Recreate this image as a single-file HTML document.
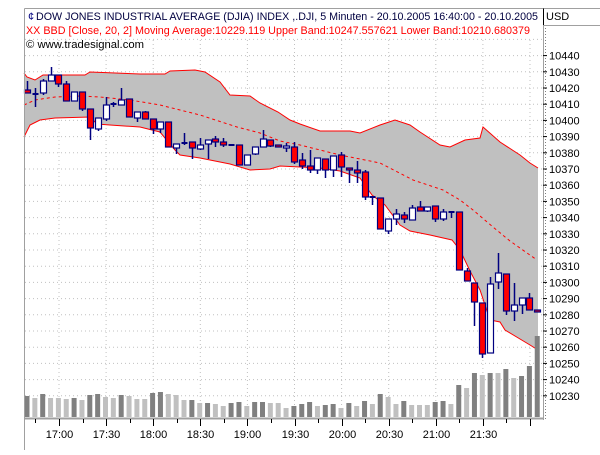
<!DOCTYPE html>
<html><head><meta charset="utf-8"><style>
body{margin:0;background:#fff;}
svg text{font-family:"Liberation Sans",sans-serif;font-size:11px;}
</style></head><body>
<svg id="s" width="600" height="450" xmlns="http://www.w3.org/2000/svg">
<rect width="600" height="450" fill="#fff"/>
<g id="grid"></g>
<polygon fill="#c0c0c0" stroke="none" points="24,73 27,77 35,80 43,75 85,75 90,72 140,74 165,74 170,71 195,70 205,72 220,82 230,95 250,96 260,103 278,112 290,120 300,124 320,131 350,131 360,133 380,125 395,120 410,125 420,132 440,145 450,147 465,140 480,138 483,127 500,142 520,155 530,163 538,168 538,350 530,345 520,339 505,330 500,322 490,320 480,290 470,271 460,250 452,240 430,235 410,231 400,225 385,205 372,195 360,178 340,171 320,168 300,167 280,166 270,169 250,170 230,164 200,158 180,155 175,150 160,132 140,127 110,125 97,124 90,117 55,118 40,120 30,125 24,137"/>
<polyline fill="none" stroke="#f00" stroke-width="1" points="24,73 27,77 35,80 43,75 85,75 90,72 140,74 165,74 170,71 195,70 205,72 220,82 230,95 250,96 260,103 278,112 290,120 300,124 320,131 350,131 360,133 380,125 395,120 410,125 420,132 440,145 450,147 465,140 480,138 483,127 500,142 520,155 530,163 538,168"/>
<polyline fill="none" stroke="#f00" stroke-width="1" points="538,350 530,345 520,339 505,330 500,322 490,320 480,290 470,271 460,250 452,240 430,235 410,231 400,225 385,205 372,195 360,178 340,171 320,168 300,167 280,166 270,169 250,170 230,164 200,158 180,155 175,150 160,132 140,127 110,125 97,124 90,117 55,118 40,120 30,125 24,137"/>
<polyline fill="none" stroke="#f00" stroke-width="1" stroke-dasharray="3,3" points="24,105 35,100 55,97 80,96 100,97 130,100 160,105 200,115 237,127 260,133 280,141 300,145 340,155 380,163 413,180 443,190 460,200 473,210 493,227 510,241 537,260"/>
<g id="vol"></g>
<g id="cand"></g>
<g id="axes"></g>
<!-- header -->
<line x1="24.5" y1="8.5" x2="600" y2="8.5" stroke="#a0a0a0"/>
<line x1="24.5" y1="8.5" x2="24.5" y2="60" stroke="#a0a0a0"/>
<line x1="543.5" y1="8.5" x2="543.5" y2="25" stroke="#000"/>
<line x1="543.5" y1="25.5" x2="600" y2="25.5" stroke="#a0a0a0"/>
<text x="28" y="20" fill="#000080">¢</text>
<text x="36" y="20" fill="#000040" textLength="502" lengthAdjust="spacingAndGlyphs">DOW JONES INDUSTRIAL AVERAGE (DJIA) INDEX ,.DJI, 5 Minuten - 20.10.2005 16:40:00 - 20.10.2005</text>
<text x="546" y="20" fill="#000">USD</text>
<text x="26" y="34" fill="#f00" textLength="504" lengthAdjust="spacingAndGlyphs">XX BBD [Close, 20, 2] Moving Average:10229.119 Upper Band:10247.557621 Lower Band:10210.680379</text>
<text x="26" y="48" fill="#000" textLength="118" lengthAdjust="spacingAndGlyphs">© www.tradesignal.com</text>
</svg>
<script>
var NS="http://www.w3.org/2000/svg";
function el(p,t,a){var e=document.createElementNS(NS,t);for(var k in a)e.setAttribute(k,a[k]);document.getElementById(p).appendChild(e);return e;}
for(var v=10230;v<=10450;v+=10){var y=250-(v-10320)*1.62;
 el("grid","line",{x1:25,x2:542,y1:y,y2:y,stroke:"#c0c0c0","stroke-dasharray":"1,3"});}
for(var i=-1;i<11;i++){var x=59+i*47.1;if(x<25)continue;
 el("grid","line",{x1:x,x2:x,y1:40,y2:417,stroke:"#c0c0c0","stroke-dasharray":"1,3"});}
var vt=[396,398,394,398,398,399,398,400,395,394,397,398,395,396,399,399,393,392,394,395,400,400,403,403,404,406,403,402,406,402,402,403,403,408,406,404,402,406,405,404,408,403,406,401,404,394,397,404,401,405,405,405,402,401,404,385,388,373,375,373,373,369,378,376,366,336];
var vc="DLDLLLDLDDLLDLLLDDLLLDLDLLDDLDDLLLDDDLDDLDLDLDLLDLLLDDLDLDLDLDLDDD";
for(var i=0;i<66;i++){var x=27+i*7.85;
 el("vol","rect",{x:x-2.5,y:vt[i],width:5,height:417-vt[i],fill:vc[i]=="D"?"#808080":"#c0c0c0"});}
var C=[[90,93,81,93,"r"],[94,94,88,107,"c"],[81,93,79,95,"w"],[75,81,67,81,"w"],[75,84,75,87,"r"],[84,101,81,101,"r"],[92,101,92,101,"w"],[92,109,92,111,"r"],[109,128,109,140,"r"],[118,129,118,131,"w"],[105,119,97,121,"w"],[104,104,102,107,"c"],[100,105,88,105,"w"],[99,117,99,117,"r"],[112,118,112,122,"w"],[112,119,111,119,"r"],[119,129,119,134,"r"],[122,129,122,133,"w"],[122,147,122,147,"r"],[144,148,144,154,"w"],[143,143,133,145,"c"],[142,148,142,159,"r"],[145,149,138,150,"w"],[140,144,140,159,"w"],[139,142,136,147,"r"],[142,145,138,147,"r"],[145,145,144,146,"c"],[145,165,145,165,"r"],[155,165,155,165,"w"],[147,154,147,155,"w"],[139,147,130,147,"w"],[140,146,140,147,"r"],[145,147,145,147,"r"],[146,148,143,152,"w"],[147,162,142,164,"r"],[160,166,153,169,"r"],[166,170,150,173,"r"],[158,170,158,174,"w"],[159,170,159,178,"r"],[156,170,156,177,"w"],[155,167,152,177,"r"],[168,170,168,183,"r"],[170,173,161,183,"r"],[172,197,170,200,"r"],[197,197,197,205,"c"],[198,229,198,229,"r"],[219,231,219,234,"w"],[214,219,209,225,"w"],[215,219,212,223,"r"],[208,220,205,220,"w"],[207,211,201,211,"r"],[207,211,207,212,"w"],[206,219,206,222,"r"],[212,219,209,221,"w"],[212,212,211,218,"c"],[212,270,212,270,"r"],[271,281,268,281,"r"],[283,302,283,326,"r"],[303,354,303,358,"r"],[284,353,277,353,"w"],[273,282,253,289,"w"],[274,311,274,315,"r"],[305,311,283,321,"w"],[298,305,298,314,"w"],[298,310,293,310,"r"],[310,312,310,312,"r"]];
for(var i=0;i<C.length;i++){var c=C[i],x=Math.round(27+i*7.85)+0.5;
 el("cand","line",{x1:x,x2:x,y1:c[2],y2:c[3],stroke:"#000080","stroke-width":1.5});
 if(c[4]=="c"){el("cand","line",{x1:x-3,x2:x+3,y1:c[0],y2:c[0],stroke:"#000080","stroke-width":2});}
 else el("cand","rect",{x:x-3,y:c[0],width:6,height:Math.max(c[1]-c[0],2),fill:c[4]=="r"?"#f00":"#fff",stroke:"#000080","stroke-width":1.2});}
el("axes","line",{x1:24.5,x2:24.5,y1:57,y2:450,stroke:"#a0a0a0"});
el("axes","line",{x1:24,x2:543,y1:418.5,y2:418.5,stroke:"#a0a0a0","stroke-width":2});
el("axes","line",{x1:543.5,x2:543.5,y1:25,y2:420,stroke:"#a0a0a0"});
el("axes","line",{x1:545.5,x2:545.5,y1:25,y2:420,stroke:"#808080","stroke-dasharray":"1,2"});
var labs=["17:00","17:30","18:00","18:30","19:00","19:30","20:00","20:30","21:00","21:30"];
for(var i=-1;i<21;i++){var x=Math.round(59+i*23.55)+0.5;if(x<25||x>542)continue;
 var maj=(i%2==0);
 el("axes","line",{x1:x,x2:x,y1:419,y2:maj?426:423,stroke:"#000"});
 if(maj&&i>=0&&i/2<labs.length){var t=el("axes","text",{x:x,y:438,"text-anchor":"middle",fill:"#000"});t.textContent=labs[i/2];}}
for(var v=10230;v<=10440;v+=10){var y=250-(v-10320)*1.62;
 el("axes","line",{x1:543,x2:547,y1:y,y2:y,stroke:"#000"});
 var t=el("axes","text",{x:549,y:y+4,fill:"#000"});t.textContent=v;}
</script>
</body></html>
